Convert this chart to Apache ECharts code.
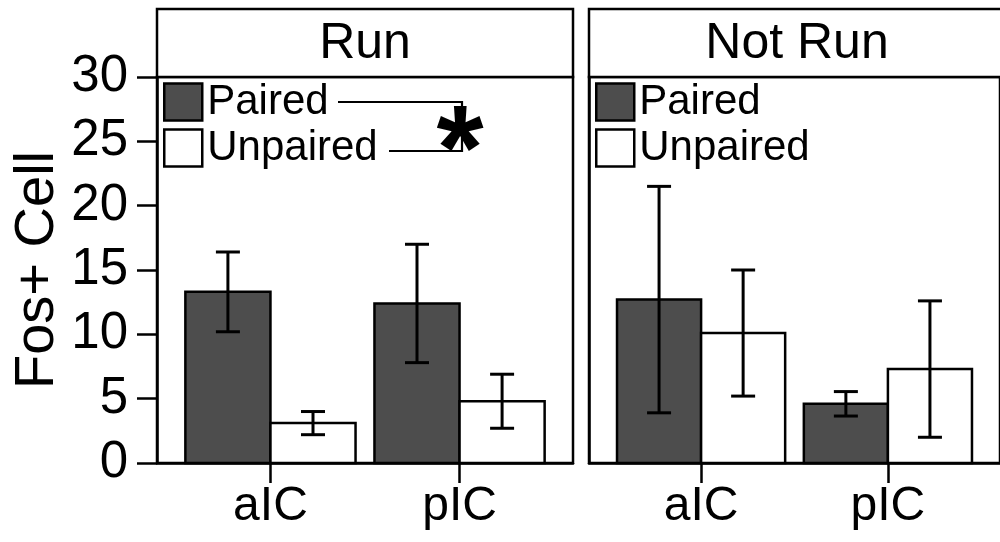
<!DOCTYPE html>
<html>
<head>
<meta charset="utf-8">
<style>html,body{margin:0;padding:0;background:#fff}#chart{width:1000px;height:542px}</style>
<script src="https://cdn.jsdelivr.net/npm/echarts@6/dist/echarts.min.js"></script>
</head>
<body>
<div id="chart"></div>
<script>
// ---- data ----
const categories = ['aIC', 'pIC'];
const xPos = [1, 2];
const panels = ['Run', 'Not Run'];
const seriesNames = ['Paired', 'Unpaired'];
const runPaired = [13.3, 12.4];
const runPairedErr = [3.1, 4.6];
const runUnpaired = [3.1, 4.8];
const runUnpairedErr = [0.9, 2.1];
const notRunPaired = [12.7, 4.6];
const notRunPairedErr = [8.8, 0.95];
const notRunUnpaired = [10.1, 7.3];
const notRunUnpairedErr = [4.9, 5.3];
const yMin = 0, yMax = 30, yStep = 5;

const FONT = '"Liberation Sans", Arial, Helvetica, sans-serif';
const chart = echarts.init(document.getElementById('chart'));

const panelData = [
  { paired: runPaired, pairedErr: runPairedErr, unpaired: runUnpaired, unpairedErr: runUnpairedErr },
  { paired: notRunPaired, pairedErr: notRunPairedErr, unpaired: notRunUnpaired, unpairedErr: notRunUnpairedErr }
];

const gridLeft = [157, 589];
const gridW = 416, gridTop = 77, gridH = 386;
const colors = ['#4d4d4d', '#ffffff'];
const barW = 0.45;   // bar width in axis units (dodge width 0.9)

function barRender(j) {
  return function (params, api) {
    const x = api.value(0);
    const x0 = j === 0 ? x - barW : x;
    const x1 = j === 0 ? x : x + barW;
    const p0 = api.coord([x0, api.value(1)]);
    const p1 = api.coord([x1, 0]);
    return {
      type: 'rect',
      shape: { x: p0[0], y: p0[1], width: p1[0] - p0[0], height: p1[1] - p0[1] },
      style: { fill: colors[j], stroke: '#000', lineWidth: 2.5 }
    };
  };
}

function errRender(j) {
  const offset = j === 0 ? -barW / 2 : barW / 2;
  return function (params, api) {
    const x = api.value(0) + offset;
    const lo = api.coord([x, api.value(1)]);
    const hi = api.coord([x, api.value(2)]);
    const hw = 12;
    const st = { stroke: '#000', lineWidth: 3 };
    return {
      type: 'group',
      children: [
        { type: 'line', shape: { x1: lo[0], y1: lo[1], x2: hi[0], y2: hi[1] }, style: st },
        { type: 'line', shape: { x1: hi[0] - hw, y1: hi[1], x2: hi[0] + hw, y2: hi[1] }, style: st },
        { type: 'line', shape: { x1: lo[0] - hw, y1: lo[1], x2: lo[0] + hw, y2: lo[1] }, style: st }
      ]
    };
  };
}

const grids = [], xAxes = [], yAxes = [], series = [], legends = [], graphics = [];
panels.forEach((p, k) => {
  grids.push({ left: gridLeft[k], top: gridTop, width: gridW, height: gridH, show: true,
    borderColor: '#000', borderWidth: 2.5, backgroundColor: 'transparent' });
  xAxes.push({
    gridIndex: k, type: 'value', min: 0.4, max: 2.6,
    axisLine: { show: true, lineStyle: { color: '#000', width: 2.5 } },
    axisTick: { show: true, customValues: xPos, length: 20, lineStyle: { color: '#000', width: 2.5 } },
    axisLabel: { customValues: xPos, formatter: v => categories[xPos.indexOf(v)] || '',
      fontSize: 48, margin: 20, color: '#000', fontFamily: FONT },
    splitLine: { show: false }
  });
  yAxes.push(k === 0 ? {
    gridIndex: k, type: 'value', min: yMin, max: yMax, interval: yStep,
    axisLine: { show: true, lineStyle: { color: '#000', width: 2.5 } },
    axisTick: { show: true, length: 20, lineStyle: { color: '#000', width: 2.5 } },
    axisLabel: { fontSize: 51, margin: 29, color: '#000', fontFamily: FONT },
    splitLine: { show: false },
    name: 'Fos+ Cell', nameLocation: 'middle', nameGap: 91,
    nameTextStyle: { fontSize: 56, color: '#000', fontFamily: FONT }
  } : {
    gridIndex: k, type: 'value', min: yMin, max: yMax, interval: yStep,
    axisLine: { show: true, lineStyle: { color: '#000', width: 2.5 } },
    axisTick: { show: false }, axisLabel: { show: false }, splitLine: { show: false }
  });
  const d = panelData[k];
  const vals = [d.paired, d.unpaired];
  const errs = [d.pairedErr, d.unpairedErr];
  seriesNames.forEach((n, j) => {
    series.push({
      type: 'custom', name: n, xAxisIndex: k, yAxisIndex: k,
      data: xPos.map((x, i) => [x, vals[j][i]]),
      encode: { x: 0, y: 1 },
      renderItem: barRender(j),
      itemStyle: { color: colors[j], borderColor: '#000', borderWidth: 2.5 },
      silent: true, z: 2
    });
  });
  seriesNames.forEach((n, j) => {
    series.push({
      type: 'custom', name: n + ' err', xAxisIndex: k, yAxisIndex: k,
      data: xPos.map((x, i) => [x, vals[j][i] - errs[j][i], vals[j][i] + errs[j][i]]),
      encode: { x: 0, y: [1, 2] },
      renderItem: errRender(j),
      silent: true, z: 5
    });
  });
  legends.push({
    data: seriesNames, orient: 'vertical', left: gridLeft[k] + 6, top: 81, padding: 0,
    itemWidth: 38, itemHeight: 37, itemGap: 4, icon: 'rect', selectedMode: false,
    textStyle: { fontSize: 42, color: '#000', fontFamily: FONT, lineHeight: 40 },
    itemStyle: { borderWidth: 2.5, borderColor: '#000' }
  });
  graphics.push({ type: 'rect', shape: { x: gridLeft[k], y: 9, width: gridW, height: 68 },
    style: { fill: '#fff', stroke: '#000', lineWidth: 2.5 }, z: 10 });
  graphics.push({ type: 'text', x: gridLeft[k] + gridW / 2, y: 44,
    style: { text: p, fontSize: 50, fontFamily: FONT, fill: '#000', align: 'center', verticalAlign: 'middle' }, z: 11 });
});

// significance bracket and asterisk
graphics.push({ type: 'polyline', shape: { points: [[338, 102], [462, 102], [462, 151], [389, 151]] },
  style: { stroke: '#000', lineWidth: 2.2, fill: null }, z: 11 });
graphics.push({ type: 'text', x: 460, y: 156,
  style: { text: '*', fontSize: 121, fontWeight: 'bold', fontFamily: FONT, fill: '#000', align: 'center', verticalAlign: 'middle' }, z: 12 });

chart.setOption({
  backgroundColor: '#fff',
  animation: false,
  grid: grids, xAxis: xAxes, yAxis: yAxes, series: series, legend: legends, graphic: graphics
});
</script>
</body>
</html>
